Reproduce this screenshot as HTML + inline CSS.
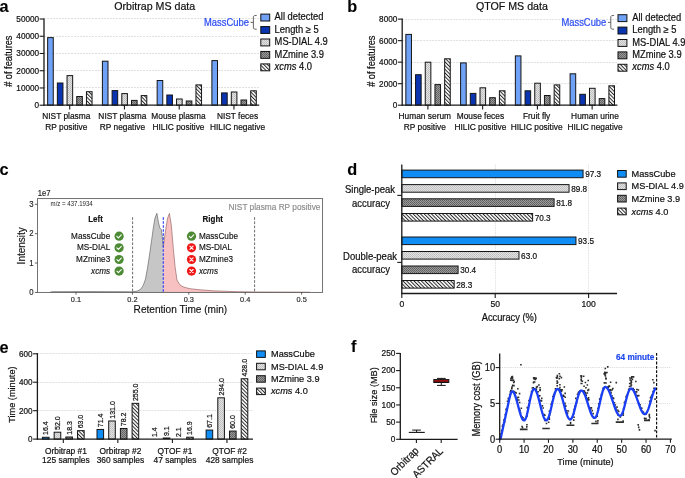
<!DOCTYPE html>
<html><head><meta charset="utf-8"><style>
html,body{margin:0;padding:0;background:#fff;width:685px;height:478px;overflow:hidden}
svg{display:block;will-change:transform;filter:blur(0.3px)}
text{font-family:"Liberation Sans", sans-serif}
</style></head><body>
<svg width="685" height="478" viewBox="0 0 685 478" font-family='"Liberation Sans", sans-serif'>
<defs>
<pattern id="pMSD" width="2" height="2" patternUnits="userSpaceOnUse"><rect width="2" height="2" fill="#e2e2e2"/><rect width="1" height="1" fill="#bdbdbd"/><rect x="1" y="1" width="1" height="1" fill="#c6c6c6"/></pattern>
<pattern id="pMZ" width="2" height="2" patternUnits="userSpaceOnUse"><rect width="2" height="2" fill="#9a9a9a"/><rect width="1" height="1" fill="#5e5e5e"/><rect x="1" y="1" width="1" height="1" fill="#6a6a6a"/></pattern>
<pattern id="pXC" width="2.6" height="2.6" patternUnits="userSpaceOnUse" patternTransform="rotate(-45)"><rect width="2.6" height="2.6" fill="#fafafa"/><rect width="0.95" height="2.6" fill="#262626"/></pattern>
</defs>
<rect width="685" height="478" fill="#fff"/>
<text transform="translate(-0.6 11.7)" font-size="16.3" text-anchor="start" font-weight="bold" fill="#000" font-style="normal" stroke="#000" stroke-width="0.1">a</text>
<line x1="44" y1="87.5" x2="259.2" y2="87.5" stroke="#e0e0e0" stroke-width="1" stroke-dasharray="2 1"/>
<line x1="44" y1="70.5" x2="259.2" y2="70.5" stroke="#e0e0e0" stroke-width="1" stroke-dasharray="2 1"/>
<line x1="44" y1="53.5" x2="259.2" y2="53.5" stroke="#e0e0e0" stroke-width="1" stroke-dasharray="2 1"/>
<line x1="44" y1="36.5" x2="259.2" y2="36.5" stroke="#e0e0e0" stroke-width="1" stroke-dasharray="2 1"/>
<line x1="44" y1="18.5" x2="259.2" y2="18.5" stroke="#e0e0e0" stroke-width="1" stroke-dasharray="2 1"/>
<rect x="47.65" y="37.6" width="5.6" height="67.6" fill="#6fa2f7" stroke="#151515" stroke-width="1"/>
<rect x="57.35" y="83" width="5.6" height="22.2" fill="#0a34b0" stroke="#151515" stroke-width="1"/>
<rect x="67.05" y="75.6" width="5.6" height="29.6" fill="url(#pMSD)" stroke="#151515" stroke-width="1"/>
<rect x="76.75" y="96.5" width="5.6" height="8.7" fill="url(#pMZ)" stroke="#151515" stroke-width="1"/>
<rect x="86.45" y="91.7" width="5.6" height="13.5" fill="url(#pXC)" stroke="#151515" stroke-width="1"/>
<line x1="69.7" y1="105.2" x2="69.7" y2="109.4" stroke="#1a1a1a" stroke-width="1.1"/>
<text transform="translate(66.3 119.4) scale(1 1.08)" font-size="8.35" text-anchor="middle" font-weight="normal" fill="#111" font-style="normal" stroke="#111" stroke-width="0.2">NIST plasma</text>
<text transform="translate(66.3 129.6) scale(1 1.08)" font-size="8.35" text-anchor="middle" font-weight="normal" fill="#111" font-style="normal" stroke="#111" stroke-width="0.2">RP positive</text>
<rect x="102.4" y="61.2" width="5.6" height="44" fill="#6fa2f7" stroke="#151515" stroke-width="1"/>
<rect x="112.1" y="90.6" width="5.6" height="14.6" fill="#0a34b0" stroke="#151515" stroke-width="1"/>
<rect x="121.8" y="93.6" width="5.6" height="11.6" fill="url(#pMSD)" stroke="#151515" stroke-width="1"/>
<rect x="131.5" y="100.4" width="5.6" height="4.8" fill="url(#pMZ)" stroke="#151515" stroke-width="1"/>
<rect x="141.2" y="95.6" width="5.6" height="9.6" fill="url(#pXC)" stroke="#151515" stroke-width="1"/>
<line x1="124.45" y1="105.2" x2="124.45" y2="109.4" stroke="#1a1a1a" stroke-width="1.1"/>
<text transform="translate(122.4 119.4) scale(1 1.08)" font-size="8.35" text-anchor="middle" font-weight="normal" fill="#111" font-style="normal" stroke="#111" stroke-width="0.2">NIST plasma</text>
<text transform="translate(122.4 129.6) scale(1 1.08)" font-size="8.35" text-anchor="middle" font-weight="normal" fill="#111" font-style="normal" stroke="#111" stroke-width="0.2">RP negative</text>
<rect x="157.15" y="80.5" width="5.6" height="24.7" fill="#6fa2f7" stroke="#151515" stroke-width="1"/>
<rect x="166.85" y="95" width="5.6" height="10.2" fill="#0a34b0" stroke="#151515" stroke-width="1"/>
<rect x="176.55" y="99" width="5.6" height="6.2" fill="url(#pMSD)" stroke="#151515" stroke-width="1"/>
<rect x="186.25" y="101" width="5.6" height="4.2" fill="url(#pMZ)" stroke="#151515" stroke-width="1"/>
<rect x="195.95" y="84.9" width="5.6" height="20.3" fill="url(#pXC)" stroke="#151515" stroke-width="1"/>
<line x1="179.2" y1="105.2" x2="179.2" y2="109.4" stroke="#1a1a1a" stroke-width="1.1"/>
<text transform="translate(178.5 119.4) scale(1 1.08)" font-size="8.35" text-anchor="middle" font-weight="normal" fill="#111" font-style="normal" stroke="#111" stroke-width="0.2">Mouse plasma</text>
<text transform="translate(178.5 129.6) scale(1 1.08)" font-size="8.35" text-anchor="middle" font-weight="normal" fill="#111" font-style="normal" stroke="#111" stroke-width="0.2">HILIC positive</text>
<rect x="211.9" y="60.6" width="5.6" height="44.6" fill="#6fa2f7" stroke="#151515" stroke-width="1"/>
<rect x="221.6" y="92.9" width="5.6" height="12.3" fill="#0a34b0" stroke="#151515" stroke-width="1"/>
<rect x="231.3" y="92" width="5.6" height="13.2" fill="url(#pMSD)" stroke="#151515" stroke-width="1"/>
<rect x="241" y="100" width="5.6" height="5.2" fill="url(#pMZ)" stroke="#151515" stroke-width="1"/>
<rect x="250.7" y="90.8" width="5.6" height="14.4" fill="url(#pXC)" stroke="#151515" stroke-width="1"/>
<line x1="233.95" y1="105.2" x2="233.95" y2="109.4" stroke="#1a1a1a" stroke-width="1.1"/>
<text transform="translate(237.5 119.4) scale(1 1.08)" font-size="8.35" text-anchor="middle" font-weight="normal" fill="#111" font-style="normal" stroke="#111" stroke-width="0.2">NIST feces</text>
<text transform="translate(237.5 129.6) scale(1 1.08)" font-size="8.35" text-anchor="middle" font-weight="normal" fill="#111" font-style="normal" stroke="#111" stroke-width="0.2">HILIC negative</text>
<line x1="44" y1="18.6" x2="44" y2="105.8" stroke="#1a1a1a" stroke-width="1.3"/>
<line x1="43.4" y1="105.2" x2="259.2" y2="105.2" stroke="#1a1a1a" stroke-width="1.3"/>
<line x1="39.6" y1="105.2" x2="44" y2="105.2" stroke="#1a1a1a" stroke-width="1.1"/>
<text transform="translate(39.1 108.1) scale(1 1.08)" font-size="8.2" text-anchor="end" font-weight="normal" fill="#111" font-style="normal" stroke="#111" stroke-width="0.2">0</text>
<line x1="39.6" y1="87.96" x2="44" y2="87.96" stroke="#1a1a1a" stroke-width="1.1"/>
<text transform="translate(39.1 90.86) scale(1 1.08)" font-size="8.2" text-anchor="end" font-weight="normal" fill="#111" font-style="normal" stroke="#111" stroke-width="0.2">10000</text>
<line x1="39.6" y1="70.72" x2="44" y2="70.72" stroke="#1a1a1a" stroke-width="1.1"/>
<text transform="translate(39.1 73.62) scale(1 1.08)" font-size="8.2" text-anchor="end" font-weight="normal" fill="#111" font-style="normal" stroke="#111" stroke-width="0.2">20000</text>
<line x1="39.6" y1="53.48" x2="44" y2="53.48" stroke="#1a1a1a" stroke-width="1.1"/>
<text transform="translate(39.1 56.38) scale(1 1.08)" font-size="8.2" text-anchor="end" font-weight="normal" fill="#111" font-style="normal" stroke="#111" stroke-width="0.2">30000</text>
<line x1="39.6" y1="36.24" x2="44" y2="36.24" stroke="#1a1a1a" stroke-width="1.1"/>
<text transform="translate(39.1 39.14) scale(1 1.08)" font-size="8.2" text-anchor="end" font-weight="normal" fill="#111" font-style="normal" stroke="#111" stroke-width="0.2">40000</text>
<line x1="39.6" y1="19" x2="44" y2="19" stroke="#1a1a1a" stroke-width="1.1"/>
<text transform="translate(39.1 21.9) scale(1 1.08)" font-size="8.2" text-anchor="end" font-weight="normal" fill="#111" font-style="normal" stroke="#111" stroke-width="0.2">50000</text>
<text transform="translate(154.7 9.9) scale(1 1.08)" font-size="10.65" text-anchor="middle" font-weight="normal" fill="#111" font-style="normal" stroke="#111" stroke-width="0.2">Orbitrap MS data</text>
<text transform="translate(11.9 61.2) rotate(-90) scale(1 1.08)" font-size="9.25" text-anchor="middle" font-weight="normal" fill="#111" font-style="normal" stroke="#111" stroke-width="0.2"># of features</text>
<rect x="260.8" y="14.1" width="8.9" height="6.9" fill="#6fa2f7" stroke="#111" stroke-width="1"/>
<text transform="translate(274.6 20.2) scale(1 1.08)" font-size="9.35" text-anchor="start" font-weight="normal" fill="#111" font-style="normal" stroke="#111" stroke-width="0.2">All detected</text>
<rect x="260.8" y="26.55" width="8.9" height="6.9" fill="#0a34b0" stroke="#111" stroke-width="1"/>
<text transform="translate(274.6 32.65) scale(1 1.08)" font-size="9.35" text-anchor="start" font-weight="normal" fill="#111" font-style="normal" stroke="#111" stroke-width="0.2">Length ≥ 5</text>
<rect x="260.8" y="39" width="8.9" height="6.9" fill="url(#pMSD)" stroke="#111" stroke-width="1"/>
<text transform="translate(274.6 45.1) scale(1 1.08)" font-size="9.35" text-anchor="start" font-weight="normal" fill="#111" font-style="normal" stroke="#111" stroke-width="0.2">MS-DIAL 4.9</text>
<rect x="260.8" y="51.45" width="8.9" height="6.9" fill="url(#pMZ)" stroke="#111" stroke-width="1"/>
<text transform="translate(274.6 57.55) scale(1 1.08)" font-size="9.35" text-anchor="start" font-weight="normal" fill="#111" font-style="normal" stroke="#111" stroke-width="0.2">MZmine 3.9</text>
<rect x="260.8" y="63.9" width="8.9" height="6.9" fill="url(#pXC)" stroke="#111" stroke-width="1"/>
<text transform="translate(274.6 70) scale(1 1.08)" font-size="9.35" text-anchor="start" font-weight="normal" fill="#111" font-style="normal" stroke="#111" stroke-width="0.2"><tspan font-style="italic">xcms</tspan> 4.0</text>
<text transform="translate(248.9 25.8) scale(1 1.08)" font-size="9.4" text-anchor="end" font-weight="normal" fill="#2a4cf2" font-style="normal" stroke="#2a4cf2" stroke-width="0.2">MassCube</text>
<path d="M256.7 15.4 Q253.4 15.4 253.4 16.6 L253.4 28.1 Q253.4 29.3 256.7 29.3 M250.6 22.4 L253.4 22.4" fill="none" stroke="#555" stroke-width="0.9"/>
<text transform="translate(347.2 11.8)" font-size="16.3" text-anchor="start" font-weight="bold" fill="#000" font-style="normal" stroke="#000" stroke-width="0.1">b</text>
<line x1="402.2" y1="83.5" x2="617.4" y2="83.5" stroke="#e0e0e0" stroke-width="1" stroke-dasharray="2 1"/>
<line x1="402.2" y1="62.5" x2="617.4" y2="62.5" stroke="#e0e0e0" stroke-width="1" stroke-dasharray="2 1"/>
<line x1="402.2" y1="40.5" x2="617.4" y2="40.5" stroke="#e0e0e0" stroke-width="1" stroke-dasharray="2 1"/>
<line x1="402.2" y1="19.5" x2="617.4" y2="19.5" stroke="#e0e0e0" stroke-width="1" stroke-dasharray="2 1"/>
<rect x="405.85" y="34.4" width="5.6" height="70.8" fill="#6fa2f7" stroke="#151515" stroke-width="1"/>
<rect x="415.55" y="74.7" width="5.6" height="30.5" fill="#0a34b0" stroke="#151515" stroke-width="1"/>
<rect x="425.25" y="62.2" width="5.6" height="43" fill="url(#pMSD)" stroke="#151515" stroke-width="1"/>
<rect x="434.95" y="84.6" width="5.6" height="20.6" fill="url(#pMZ)" stroke="#151515" stroke-width="1"/>
<rect x="444.65" y="58.8" width="5.6" height="46.4" fill="url(#pXC)" stroke="#151515" stroke-width="1"/>
<line x1="427.9" y1="105.2" x2="427.9" y2="109.4" stroke="#1a1a1a" stroke-width="1.1"/>
<text transform="translate(424.8 119.4) scale(1 1.08)" font-size="8.35" text-anchor="middle" font-weight="normal" fill="#111" font-style="normal" stroke="#111" stroke-width="0.2">Human serum</text>
<text transform="translate(424.8 129.6) scale(1 1.08)" font-size="8.35" text-anchor="middle" font-weight="normal" fill="#111" font-style="normal" stroke="#111" stroke-width="0.2">RP positive</text>
<rect x="460.6" y="62.9" width="5.6" height="42.3" fill="#6fa2f7" stroke="#151515" stroke-width="1"/>
<rect x="470.3" y="93.4" width="5.6" height="11.8" fill="#0a34b0" stroke="#151515" stroke-width="1"/>
<rect x="480" y="87.8" width="5.6" height="17.4" fill="url(#pMSD)" stroke="#151515" stroke-width="1"/>
<rect x="489.7" y="97.7" width="5.6" height="7.5" fill="url(#pMZ)" stroke="#151515" stroke-width="1"/>
<rect x="499.4" y="90.8" width="5.6" height="14.4" fill="url(#pXC)" stroke="#151515" stroke-width="1"/>
<line x1="482.65" y1="105.2" x2="482.65" y2="109.4" stroke="#1a1a1a" stroke-width="1.1"/>
<text transform="translate(480.4 119.4) scale(1 1.08)" font-size="8.35" text-anchor="middle" font-weight="normal" fill="#111" font-style="normal" stroke="#111" stroke-width="0.2">Mouse feces</text>
<text transform="translate(480.4 129.6) scale(1 1.08)" font-size="8.35" text-anchor="middle" font-weight="normal" fill="#111" font-style="normal" stroke="#111" stroke-width="0.2">HILIC positive</text>
<rect x="515.35" y="55.9" width="5.6" height="49.3" fill="#6fa2f7" stroke="#151515" stroke-width="1"/>
<rect x="525.05" y="90.8" width="5.6" height="14.4" fill="#0a34b0" stroke="#151515" stroke-width="1"/>
<rect x="534.75" y="83.2" width="5.6" height="22" fill="url(#pMSD)" stroke="#151515" stroke-width="1"/>
<rect x="544.45" y="95.5" width="5.6" height="9.7" fill="url(#pMZ)" stroke="#151515" stroke-width="1"/>
<rect x="554.15" y="84.9" width="5.6" height="20.3" fill="url(#pXC)" stroke="#151515" stroke-width="1"/>
<line x1="537.4" y1="105.2" x2="537.4" y2="109.4" stroke="#1a1a1a" stroke-width="1.1"/>
<text transform="translate(536.6 119.4) scale(1 1.08)" font-size="8.35" text-anchor="middle" font-weight="normal" fill="#111" font-style="normal" stroke="#111" stroke-width="0.2">Fruit fly</text>
<text transform="translate(536.6 129.6) scale(1 1.08)" font-size="8.35" text-anchor="middle" font-weight="normal" fill="#111" font-style="normal" stroke="#111" stroke-width="0.2">HILIC positive</text>
<rect x="570.1" y="73.8" width="5.6" height="31.4" fill="#6fa2f7" stroke="#151515" stroke-width="1"/>
<rect x="579.8" y="94.3" width="5.6" height="10.9" fill="#0a34b0" stroke="#151515" stroke-width="1"/>
<rect x="589.5" y="88.3" width="5.6" height="16.9" fill="url(#pMSD)" stroke="#151515" stroke-width="1"/>
<rect x="599.2" y="98.6" width="5.6" height="6.6" fill="url(#pMZ)" stroke="#151515" stroke-width="1"/>
<rect x="608.9" y="85.8" width="5.6" height="19.4" fill="url(#pXC)" stroke="#151515" stroke-width="1"/>
<line x1="592.15" y1="105.2" x2="592.15" y2="109.4" stroke="#1a1a1a" stroke-width="1.1"/>
<text transform="translate(595 119.4) scale(1 1.08)" font-size="8.35" text-anchor="middle" font-weight="normal" fill="#111" font-style="normal" stroke="#111" stroke-width="0.2">Human urine</text>
<text transform="translate(595 129.6) scale(1 1.08)" font-size="8.35" text-anchor="middle" font-weight="normal" fill="#111" font-style="normal" stroke="#111" stroke-width="0.2">HILIC negative</text>
<line x1="402.2" y1="18.6" x2="402.2" y2="105.8" stroke="#1a1a1a" stroke-width="1.3"/>
<line x1="401.6" y1="105.2" x2="617.4" y2="105.2" stroke="#1a1a1a" stroke-width="1.3"/>
<line x1="397.8" y1="105.2" x2="402.2" y2="105.2" stroke="#1a1a1a" stroke-width="1.1"/>
<text transform="translate(397.3 108.1) scale(1 1.08)" font-size="8.2" text-anchor="end" font-weight="normal" fill="#111" font-style="normal" stroke="#111" stroke-width="0.2">0</text>
<line x1="397.8" y1="83.68" x2="402.2" y2="83.68" stroke="#1a1a1a" stroke-width="1.1"/>
<text transform="translate(397.3 86.58) scale(1 1.08)" font-size="8.2" text-anchor="end" font-weight="normal" fill="#111" font-style="normal" stroke="#111" stroke-width="0.2">2000</text>
<line x1="397.8" y1="62.16" x2="402.2" y2="62.16" stroke="#1a1a1a" stroke-width="1.1"/>
<text transform="translate(397.3 65.06) scale(1 1.08)" font-size="8.2" text-anchor="end" font-weight="normal" fill="#111" font-style="normal" stroke="#111" stroke-width="0.2">4000</text>
<line x1="397.8" y1="40.64" x2="402.2" y2="40.64" stroke="#1a1a1a" stroke-width="1.1"/>
<text transform="translate(397.3 43.54) scale(1 1.08)" font-size="8.2" text-anchor="end" font-weight="normal" fill="#111" font-style="normal" stroke="#111" stroke-width="0.2">6000</text>
<line x1="397.8" y1="19.12" x2="402.2" y2="19.12" stroke="#1a1a1a" stroke-width="1.1"/>
<text transform="translate(397.3 22.02) scale(1 1.08)" font-size="8.2" text-anchor="end" font-weight="normal" fill="#111" font-style="normal" stroke="#111" stroke-width="0.2">8000</text>
<text transform="translate(511.9 9.9) scale(1 1.08)" font-size="10.65" text-anchor="middle" font-weight="normal" fill="#111" font-style="normal" stroke="#111" stroke-width="0.2">QTOF MS data</text>
<text transform="translate(374.8 61.2) rotate(-90) scale(1 1.08)" font-size="9.25" text-anchor="middle" font-weight="normal" fill="#111" font-style="normal" stroke="#111" stroke-width="0.2"># of features</text>
<rect x="618" y="14.7" width="8.9" height="6.9" fill="#6fa2f7" stroke="#111" stroke-width="1"/>
<text transform="translate(632.3 20.8) scale(1 1.08)" font-size="9.35" text-anchor="start" font-weight="normal" fill="#111" font-style="normal" stroke="#111" stroke-width="0.2">All detected</text>
<rect x="618" y="27.1" width="8.9" height="6.9" fill="#0a34b0" stroke="#111" stroke-width="1"/>
<text transform="translate(632.3 33.2) scale(1 1.08)" font-size="9.35" text-anchor="start" font-weight="normal" fill="#111" font-style="normal" stroke="#111" stroke-width="0.2">Length ≥ 5</text>
<rect x="618" y="39.5" width="8.9" height="6.9" fill="url(#pMSD)" stroke="#111" stroke-width="1"/>
<text transform="translate(632.3 45.6) scale(1 1.08)" font-size="9.35" text-anchor="start" font-weight="normal" fill="#111" font-style="normal" stroke="#111" stroke-width="0.2">MS-DIAL 4.9</text>
<rect x="618" y="51.9" width="8.9" height="6.9" fill="url(#pMZ)" stroke="#111" stroke-width="1"/>
<text transform="translate(632.3 58) scale(1 1.08)" font-size="9.35" text-anchor="start" font-weight="normal" fill="#111" font-style="normal" stroke="#111" stroke-width="0.2">MZmine 3.9</text>
<rect x="618" y="64.3" width="8.9" height="6.9" fill="url(#pXC)" stroke="#111" stroke-width="1"/>
<text transform="translate(632.3 70.4) scale(1 1.08)" font-size="9.35" text-anchor="start" font-weight="normal" fill="#111" font-style="normal" stroke="#111" stroke-width="0.2"><tspan font-style="italic">xcms</tspan> 4.0</text>
<text transform="translate(606.3 25.8) scale(1 1.08)" font-size="9.4" text-anchor="end" font-weight="normal" fill="#2a4cf2" font-style="normal" stroke="#2a4cf2" stroke-width="0.2">MassCube</text>
<path d="M614.1 15.4 Q610.8 15.4 610.8 16.6 L610.8 28.1 Q610.8 29.3 614.1 29.3 M608 22.4 L610.8 22.4" fill="none" stroke="#555" stroke-width="0.9"/>
<text transform="translate(-0.4 174.9)" font-size="16.3" text-anchor="start" font-weight="bold" fill="#000" font-style="normal" stroke="#000" stroke-width="0.1">c</text>
<polygon points="50,292.4 52,291.7 90,291.6 120,291.7 130.5,291.8 134,291.6 137.5,291 140.5,289.4 143.2,285.5 145.5,279 147.5,268 149.5,255 151.5,241 153.3,228 155,218 156.9,213.3 158.5,222.5 159.8,228 161.3,229.5 162.3,236.5 163.3,247 163.3,292.4" fill="#c6c6c6" stroke="none"/>
<polyline points="50,292.4 52,291.7 90,291.6 120,291.7 130.5,291.8 134,291.6 137.5,291 140.5,289.4 143.2,285.5 145.5,279 147.5,268 149.5,255 151.5,241 153.3,228 155,218 156.9,213.3 158.5,222.5 159.8,228 161.3,229.5 162.3,236.5 163.3,247" fill="none" stroke="#555" stroke-width="0.6"/>
<polygon points="163.3,247 164.5,238 165.7,229.4 167.6,218.2 169.4,213.4 171.4,225.7 173.3,248.3 175.1,267 177,280 179.8,284.8 183,286.8 186.4,287.8 190,288.7 200,289.8 215,290.9 237,291.7 260,292 290,292.1 310,292.2 310,292.4 163.3,292.4" fill="#f7c1c1" stroke="none"/>
<polyline points="163.3,247 164.5,238 165.7,229.4 167.6,218.2 169.4,213.4 171.4,225.7 173.3,248.3 175.1,267 177,280 179.8,284.8 183,286.8 186.4,287.8 190,288.7 200,289.8 215,290.9 237,291.7 260,292 290,292.1 310,292.2" fill="none" stroke="#8a5555" stroke-width="0.6"/>
<line x1="132.6" y1="217.2" x2="132.6" y2="292.4" stroke="#444" stroke-width="0.8" stroke-dasharray="2.6 1.6"/>
<line x1="254.6" y1="217.2" x2="254.6" y2="292.4" stroke="#444" stroke-width="0.8" stroke-dasharray="2.6 1.6"/>
<line x1="163.3" y1="217.2" x2="163.3" y2="292.4" stroke="#2233ff" stroke-width="1.1" stroke-dasharray="2.6 1.4"/>
<rect x="37.5" y="198.6" width="285.1" height="93.8" fill="none" stroke="#5a5a5a" stroke-width="0.85"/>
<line x1="34.9" y1="292.4" x2="37.5" y2="292.4" stroke="#3a3a3a" stroke-width="0.8"/>
<text transform="translate(33.6 295.2) scale(1 1.08)" font-size="7.8" text-anchor="end" font-weight="normal" fill="#222" font-style="normal" stroke="#222" stroke-width="0.14">0</text>
<line x1="34.9" y1="263.03" x2="37.5" y2="263.03" stroke="#3a3a3a" stroke-width="0.8"/>
<text transform="translate(33.6 265.83) scale(1 1.08)" font-size="7.8" text-anchor="end" font-weight="normal" fill="#222" font-style="normal" stroke="#222" stroke-width="0.14">1</text>
<line x1="34.9" y1="233.66" x2="37.5" y2="233.66" stroke="#3a3a3a" stroke-width="0.8"/>
<text transform="translate(33.6 236.46) scale(1 1.08)" font-size="7.8" text-anchor="end" font-weight="normal" fill="#222" font-style="normal" stroke="#222" stroke-width="0.14">2</text>
<line x1="34.9" y1="204.29" x2="37.5" y2="204.29" stroke="#3a3a3a" stroke-width="0.8"/>
<text transform="translate(33.6 207.09) scale(1 1.08)" font-size="7.8" text-anchor="end" font-weight="normal" fill="#222" font-style="normal" stroke="#222" stroke-width="0.14">3</text>
<line x1="76" y1="292.4" x2="76" y2="294.6" stroke="#3a3a3a" stroke-width="0.8"/>
<text transform="translate(76 301.6) scale(1 1.08)" font-size="7.4" text-anchor="middle" font-weight="normal" fill="#222" font-style="normal" stroke="#222" stroke-width="0.14">0.1</text>
<line x1="132.4" y1="292.4" x2="132.4" y2="294.6" stroke="#3a3a3a" stroke-width="0.8"/>
<text transform="translate(132.4 301.6) scale(1 1.08)" font-size="7.4" text-anchor="middle" font-weight="normal" fill="#222" font-style="normal" stroke="#222" stroke-width="0.14">0.2</text>
<line x1="188.8" y1="292.4" x2="188.8" y2="294.6" stroke="#3a3a3a" stroke-width="0.8"/>
<text transform="translate(188.8 301.6) scale(1 1.08)" font-size="7.4" text-anchor="middle" font-weight="normal" fill="#222" font-style="normal" stroke="#222" stroke-width="0.14">0.3</text>
<line x1="245.2" y1="292.4" x2="245.2" y2="294.6" stroke="#3a3a3a" stroke-width="0.8"/>
<text transform="translate(245.2 301.6) scale(1 1.08)" font-size="7.4" text-anchor="middle" font-weight="normal" fill="#222" font-style="normal" stroke="#222" stroke-width="0.14">0.4</text>
<line x1="301.6" y1="292.4" x2="301.6" y2="294.6" stroke="#3a3a3a" stroke-width="0.8"/>
<text transform="translate(301.6 301.6) scale(1 1.08)" font-size="7.4" text-anchor="middle" font-weight="normal" fill="#222" font-style="normal" stroke="#222" stroke-width="0.14">0.5</text>
<text transform="translate(37.8 196.3) scale(1 1.08)" font-size="7.7" text-anchor="start" font-weight="normal" fill="#222" font-style="normal" stroke="#222" stroke-width="0.14">1e7</text>
<text transform="translate(50.6 205.6) scale(1 1.08)" font-size="6.1" text-anchor="start" font-weight="normal" fill="#222" font-style="normal">m/z = 437.1934</text>
<text transform="translate(320.4 209.6) scale(1 1.08)" font-size="8.3" text-anchor="end" font-weight="normal" fill="#8a8a8a" font-style="normal" stroke="#8a8a8a" stroke-width="0.14">NIST plasma RP positive</text>
<text transform="translate(180.4 312.6) scale(1 1.08)" font-size="10.1" text-anchor="middle" font-weight="normal" fill="#111" font-style="normal" stroke="#111" stroke-width="0.14">Retention Time (min)</text>
<text transform="translate(25.3 245.8) rotate(-90) scale(1 1.08)" font-size="10" text-anchor="middle" font-weight="normal" fill="#111" font-style="normal" stroke="#111" stroke-width="0.14">Intensity</text>
<text transform="translate(95.5 222.2) scale(1 1.08)" font-size="8" text-anchor="middle" font-weight="bold" fill="#111" font-style="normal" stroke="#111" stroke-width="0.14">Left</text>
<text transform="translate(212.8 222.2) scale(1 1.08)" font-size="8" text-anchor="middle" font-weight="bold" fill="#111" font-style="normal" stroke="#111" stroke-width="0.14">Right</text>
<text transform="translate(110.2 238.8) scale(1 1.08)" font-size="8.2" text-anchor="end" font-weight="normal" fill="#111" font-style="normal" stroke="#111" stroke-width="0.14">MassCube</text>
<circle cx="119.1" cy="236.2" r="4.6" fill="#4c8a34"/>
<path d="M116.9 236.3 L118.4 237.8 L121.3 234.8" fill="none" stroke="#fff" stroke-width="1.1" stroke-linecap="round" stroke-linejoin="round"/>
<text transform="translate(110.2 250.4) scale(1 1.08)" font-size="8.2" text-anchor="end" font-weight="normal" fill="#111" font-style="normal" stroke="#111" stroke-width="0.14">MS-DIAL</text>
<circle cx="119.1" cy="247.8" r="4.6" fill="#4c8a34"/>
<path d="M116.9 247.9 L118.4 249.4 L121.3 246.4" fill="none" stroke="#fff" stroke-width="1.1" stroke-linecap="round" stroke-linejoin="round"/>
<text transform="translate(110.2 262) scale(1 1.08)" font-size="8.2" text-anchor="end" font-weight="normal" fill="#111" font-style="normal" stroke="#111" stroke-width="0.14">MZmine3</text>
<circle cx="119.1" cy="259.5" r="4.6" fill="#4c8a34"/>
<path d="M116.9 259.6 L118.4 261.1 L121.3 258.1" fill="none" stroke="#fff" stroke-width="1.1" stroke-linecap="round" stroke-linejoin="round"/>
<text transform="translate(110.2 273.9) scale(1 1.08)" font-size="8.2" text-anchor="end" font-weight="normal" fill="#111" font-style="normal" stroke="#111" stroke-width="0.14"><tspan font-style="italic">xcms</tspan></text>
<circle cx="119.1" cy="271.1" r="4.6" fill="#4c8a34"/>
<path d="M116.9 271.2 L118.4 272.7 L121.3 269.7" fill="none" stroke="#fff" stroke-width="1.1" stroke-linecap="round" stroke-linejoin="round"/>
<text transform="translate(198.9 238.8) scale(1 1.08)" font-size="8.2" text-anchor="start" font-weight="normal" fill="#111" font-style="normal" stroke="#111" stroke-width="0.14">MassCube</text>
<circle cx="191.5" cy="236.2" r="4.6" fill="#4c8a34"/>
<path d="M189.3 236.3 L190.8 237.8 L193.7 234.8" fill="none" stroke="#fff" stroke-width="1.1" stroke-linecap="round" stroke-linejoin="round"/>
<text transform="translate(198.9 250.4) scale(1 1.08)" font-size="8.2" text-anchor="start" font-weight="normal" fill="#111" font-style="normal" stroke="#111" stroke-width="0.14">MS-DIAL</text>
<circle cx="191.5" cy="247.8" r="4.6" fill="#f01616"/>
<path d="M189.9 246.2 L193.1 249.4 M189.9 249.4 L193.1 246.2" fill="none" stroke="#fff" stroke-width="1.1" stroke-linecap="round"/>
<text transform="translate(198.9 262) scale(1 1.08)" font-size="8.2" text-anchor="start" font-weight="normal" fill="#111" font-style="normal" stroke="#111" stroke-width="0.14">MZmine3</text>
<circle cx="191.5" cy="259.5" r="4.6" fill="#f01616"/>
<path d="M189.9 257.9 L193.1 261.1 M189.9 261.1 L193.1 257.9" fill="none" stroke="#fff" stroke-width="1.1" stroke-linecap="round"/>
<text transform="translate(198.9 273.9) scale(1 1.08)" font-size="8.2" text-anchor="start" font-weight="normal" fill="#111" font-style="normal" stroke="#111" stroke-width="0.14"><tspan font-style="italic">xcms</tspan></text>
<circle cx="191.5" cy="271.1" r="4.6" fill="#f01616"/>
<path d="M189.9 269.5 L193.1 272.7 M189.9 272.7 L193.1 269.5" fill="none" stroke="#fff" stroke-width="1.1" stroke-linecap="round"/>
<text transform="translate(347.3 175)" font-size="16.3" text-anchor="start" font-weight="bold" fill="#000" font-style="normal" stroke="#000" stroke-width="0.1">d</text>
<line x1="495.5" y1="164.8" x2="495.5" y2="293.5" stroke="#e2e2e2" stroke-width="1" stroke-dasharray="1.5 1"/>
<line x1="588.5" y1="164.8" x2="588.5" y2="293.5" stroke="#e2e2e2" stroke-width="1" stroke-dasharray="1.5 1"/>
<rect x="401.8" y="170.1" width="181.26" height="7.6" fill="#0f8df5" stroke="#151515" stroke-width="1"/>
<text transform="translate(585.16 177.15) scale(1 1.08)" font-size="8.2" text-anchor="start" font-weight="normal" fill="#111" font-style="normal" stroke="#111" stroke-width="0.2">97.3</text>
<rect x="401.8" y="184.6" width="167.25" height="7.6" fill="url(#pMSD)" stroke="#151515" stroke-width="1"/>
<text transform="translate(571.15 191.65) scale(1 1.08)" font-size="8.2" text-anchor="start" font-weight="normal" fill="#111" font-style="normal" stroke="#111" stroke-width="0.2">89.8</text>
<rect x="401.8" y="198.8" width="152.3" height="7.6" fill="url(#pMZ)" stroke="#151515" stroke-width="1"/>
<text transform="translate(556.2 205.85) scale(1 1.08)" font-size="8.2" text-anchor="start" font-weight="normal" fill="#111" font-style="normal" stroke="#111" stroke-width="0.2">81.8</text>
<rect x="401.8" y="213.5" width="130.82" height="7.6" fill="url(#pXC)" stroke="#151515" stroke-width="1"/>
<text transform="translate(534.72 220.55) scale(1 1.08)" font-size="8.2" text-anchor="start" font-weight="normal" fill="#111" font-style="normal" stroke="#111" stroke-width="0.2">70.3</text>
<rect x="401.8" y="237" width="174.16" height="7.6" fill="#0f8df5" stroke="#151515" stroke-width="1"/>
<text transform="translate(578.06 244.05) scale(1 1.08)" font-size="8.2" text-anchor="start" font-weight="normal" fill="#111" font-style="normal" stroke="#111" stroke-width="0.2">93.5</text>
<rect x="401.8" y="251.5" width="117.18" height="7.6" fill="url(#pMSD)" stroke="#151515" stroke-width="1"/>
<text transform="translate(521.08 258.55) scale(1 1.08)" font-size="8.2" text-anchor="start" font-weight="normal" fill="#111" font-style="normal" stroke="#111" stroke-width="0.2">63.0</text>
<rect x="401.8" y="266" width="56.29" height="7.6" fill="url(#pMZ)" stroke="#151515" stroke-width="1"/>
<text transform="translate(460.19 273.05) scale(1 1.08)" font-size="8.2" text-anchor="start" font-weight="normal" fill="#111" font-style="normal" stroke="#111" stroke-width="0.2">30.4</text>
<rect x="401.8" y="280.5" width="52.36" height="7.6" fill="url(#pXC)" stroke="#151515" stroke-width="1"/>
<text transform="translate(456.26 287.55) scale(1 1.08)" font-size="8.2" text-anchor="start" font-weight="normal" fill="#111" font-style="normal" stroke="#111" stroke-width="0.2">28.3</text>
<line x1="401.8" y1="164.6" x2="401.8" y2="294.1" stroke="#1a1a1a" stroke-width="1.3"/>
<line x1="401.2" y1="293.5" x2="617" y2="293.5" stroke="#1a1a1a" stroke-width="1.3"/>
<line x1="401.8" y1="293.5" x2="401.8" y2="297.9" stroke="#1a1a1a" stroke-width="1.1"/>
<text transform="translate(401.8 307) scale(1 1.08)" font-size="8.6" text-anchor="middle" font-weight="normal" fill="#111" font-style="normal" stroke="#111" stroke-width="0.2">0</text>
<line x1="495.2" y1="293.5" x2="495.2" y2="297.9" stroke="#1a1a1a" stroke-width="1.1"/>
<text transform="translate(495.2 307) scale(1 1.08)" font-size="8.6" text-anchor="middle" font-weight="normal" fill="#111" font-style="normal" stroke="#111" stroke-width="0.2">50</text>
<line x1="588.6" y1="293.5" x2="588.6" y2="297.9" stroke="#1a1a1a" stroke-width="1.1"/>
<text transform="translate(588.6 307) scale(1 1.08)" font-size="8.6" text-anchor="middle" font-weight="normal" fill="#111" font-style="normal" stroke="#111" stroke-width="0.2">100</text>
<line x1="397.3" y1="195.4" x2="401.8" y2="195.4" stroke="#1a1a1a" stroke-width="1.1"/>
<line x1="397.3" y1="262.4" x2="401.8" y2="262.4" stroke="#1a1a1a" stroke-width="1.1"/>
<text transform="translate(370 193.4) scale(1 1.08)" font-size="9.5" text-anchor="middle" font-weight="normal" fill="#111" font-style="normal" stroke="#111" stroke-width="0.2">Single-peak</text>
<text transform="translate(371 207) scale(1 1.08)" font-size="9.5" text-anchor="middle" font-weight="normal" fill="#111" font-style="normal" stroke="#111" stroke-width="0.2">accuracy</text>
<text transform="translate(370 259.6) scale(1 1.08)" font-size="9.5" text-anchor="middle" font-weight="normal" fill="#111" font-style="normal" stroke="#111" stroke-width="0.2">Double-peak</text>
<text transform="translate(371 273.3) scale(1 1.08)" font-size="9.5" text-anchor="middle" font-weight="normal" fill="#111" font-style="normal" stroke="#111" stroke-width="0.2">accuracy</text>
<text transform="translate(509.3 320.8) scale(1 1.08)" font-size="9.3" text-anchor="middle" font-weight="normal" fill="#111" font-style="normal" stroke="#111" stroke-width="0.2">Accuracy (%)</text>
<rect x="617.6" y="170.5" width="8.6" height="6.7" fill="#0f8df5" stroke="#111" stroke-width="1"/>
<text transform="translate(631.6 176.9) scale(1 1.08)" font-size="9.2" text-anchor="start" font-weight="normal" fill="#111" font-style="normal" stroke="#111" stroke-width="0.2">MassCube</text>
<rect x="617.6" y="182.9" width="8.6" height="6.7" fill="url(#pMSD)" stroke="#111" stroke-width="1"/>
<text transform="translate(631.6 189.3) scale(1 1.08)" font-size="9.2" text-anchor="start" font-weight="normal" fill="#111" font-style="normal" stroke="#111" stroke-width="0.2">MS-DIAL 4.9</text>
<rect x="617.6" y="195.3" width="8.6" height="6.7" fill="url(#pMZ)" stroke="#111" stroke-width="1"/>
<text transform="translate(631.6 201.7) scale(1 1.08)" font-size="9.2" text-anchor="start" font-weight="normal" fill="#111" font-style="normal" stroke="#111" stroke-width="0.2">MZmine 3.9</text>
<rect x="617.6" y="208.1" width="8.6" height="6.7" fill="url(#pXC)" stroke="#111" stroke-width="1"/>
<text transform="translate(631.6 214.5) scale(1 1.08)" font-size="9.2" text-anchor="start" font-weight="normal" fill="#111" font-style="normal" stroke="#111" stroke-width="0.2"><tspan font-style="italic">xcms</tspan> 4.0</text>
<text transform="translate(-0.5 352.6)" font-size="16.3" text-anchor="start" font-weight="bold" fill="#000" font-style="normal" stroke="#000" stroke-width="0.1">e</text>
<line x1="37.4" y1="410.5" x2="253" y2="410.5" stroke="#e0e0e0" stroke-width="1" stroke-dasharray="2 1"/>
<line x1="37.4" y1="382.5" x2="253" y2="382.5" stroke="#e0e0e0" stroke-width="1" stroke-dasharray="2 1"/>
<line x1="37.4" y1="353.5" x2="253" y2="353.5" stroke="#e0e0e0" stroke-width="1" stroke-dasharray="2 1"/>
<rect x="42.45" y="437.27" width="6.6" height="1.83" fill="#0f8df5" stroke="#151515" stroke-width="1"/>
<text transform="translate(48.25 434.97) rotate(-90) scale(1 1.08)" font-size="7" text-anchor="start" font-weight="normal" fill="#111" font-style="normal" stroke="#111" stroke-width="0.2">16.4</text>
<rect x="54.15" y="432.21" width="6.6" height="6.89" fill="url(#pMSD)" stroke="#151515" stroke-width="1"/>
<text transform="translate(59.95 429.91) rotate(-90) scale(1 1.08)" font-size="7" text-anchor="start" font-weight="normal" fill="#111" font-style="normal" stroke="#111" stroke-width="0.2">52.0</text>
<rect x="65.85" y="437" width="6.6" height="2.1" fill="url(#pMZ)" stroke="#151515" stroke-width="1"/>
<text transform="translate(71.65 434.7) rotate(-90) scale(1 1.08)" font-size="7" text-anchor="start" font-weight="normal" fill="#111" font-style="normal" stroke="#111" stroke-width="0.2">18.3</text>
<rect x="77.55" y="430.64" width="6.6" height="8.46" fill="url(#pXC)" stroke="#151515" stroke-width="1"/>
<text transform="translate(83.35 428.34) rotate(-90) scale(1 1.08)" font-size="7" text-anchor="start" font-weight="normal" fill="#111" font-style="normal" stroke="#111" stroke-width="0.2">63.0</text>
<line x1="63.3" y1="439.1" x2="63.3" y2="443.1" stroke="#1a1a1a" stroke-width="1.1"/>
<text transform="translate(65.9 453.5) scale(1 1.08)" font-size="8.4" text-anchor="middle" font-weight="normal" fill="#111" font-style="normal" stroke="#111" stroke-width="0.2">Orbitrap #1</text>
<text transform="translate(65.9 463) scale(1 1.08)" font-size="8.4" text-anchor="middle" font-weight="normal" fill="#111" font-style="normal" stroke="#111" stroke-width="0.2">125 samples</text>
<rect x="97" y="429.45" width="6.6" height="9.65" fill="#0f8df5" stroke="#151515" stroke-width="1"/>
<text transform="translate(102.8 427.15) rotate(-90) scale(1 1.08)" font-size="7" text-anchor="start" font-weight="normal" fill="#111" font-style="normal" stroke="#111" stroke-width="0.2">71.4</text>
<rect x="108.7" y="420.98" width="6.6" height="18.12" fill="url(#pMSD)" stroke="#151515" stroke-width="1"/>
<text transform="translate(114.5 418.68) rotate(-90) scale(1 1.08)" font-size="7" text-anchor="start" font-weight="normal" fill="#111" font-style="normal" stroke="#111" stroke-width="0.2">131.0</text>
<rect x="120.4" y="428.48" width="6.6" height="10.62" fill="url(#pMZ)" stroke="#151515" stroke-width="1"/>
<text transform="translate(126.2 426.18) rotate(-90) scale(1 1.08)" font-size="7" text-anchor="start" font-weight="normal" fill="#111" font-style="normal" stroke="#111" stroke-width="0.2">78.2</text>
<rect x="132.1" y="403.35" width="6.6" height="35.75" fill="url(#pXC)" stroke="#151515" stroke-width="1"/>
<text transform="translate(137.9 401.05) rotate(-90) scale(1 1.08)" font-size="7" text-anchor="start" font-weight="normal" fill="#111" font-style="normal" stroke="#111" stroke-width="0.2">255.0</text>
<line x1="117.85" y1="439.1" x2="117.85" y2="443.1" stroke="#1a1a1a" stroke-width="1.1"/>
<text transform="translate(120.45 453.5) scale(1 1.08)" font-size="8.4" text-anchor="middle" font-weight="normal" fill="#111" font-style="normal" stroke="#111" stroke-width="0.2">Orbitrap #2</text>
<text transform="translate(120.45 463) scale(1 1.08)" font-size="8.4" text-anchor="middle" font-weight="normal" fill="#111" font-style="normal" stroke="#111" stroke-width="0.2">360 samples</text>
<text transform="translate(157.35 437.1) rotate(-90) scale(1 1.08)" font-size="7" text-anchor="start" font-weight="normal" fill="#111" font-style="normal" stroke="#111" stroke-width="0.2">1.4</text>
<rect x="162.75" y="437.51" width="7.6" height="1.59" fill="#151515"/>
<text transform="translate(169.05 436.01) rotate(-90) scale(1 1.08)" font-size="7" text-anchor="start" font-weight="normal" fill="#111" font-style="normal" stroke="#111" stroke-width="0.2">9.1</text>
<text transform="translate(180.75 437) rotate(-90) scale(1 1.08)" font-size="7" text-anchor="start" font-weight="normal" fill="#111" font-style="normal" stroke="#111" stroke-width="0.2">2.1</text>
<rect x="186.65" y="437.2" width="6.6" height="1.9" fill="url(#pXC)" stroke="#151515" stroke-width="1"/>
<text transform="translate(192.45 434.9) rotate(-90) scale(1 1.08)" font-size="7" text-anchor="start" font-weight="normal" fill="#111" font-style="normal" stroke="#111" stroke-width="0.2">16.9</text>
<line x1="172.4" y1="439.1" x2="172.4" y2="443.1" stroke="#1a1a1a" stroke-width="1.1"/>
<text transform="translate(175 453.5) scale(1 1.08)" font-size="8.4" text-anchor="middle" font-weight="normal" fill="#111" font-style="normal" stroke="#111" stroke-width="0.2">QTOF #1</text>
<text transform="translate(175 463) scale(1 1.08)" font-size="8.4" text-anchor="middle" font-weight="normal" fill="#111" font-style="normal" stroke="#111" stroke-width="0.2">47 samples</text>
<rect x="206.1" y="430.06" width="6.6" height="9.04" fill="#0f8df5" stroke="#151515" stroke-width="1"/>
<text transform="translate(211.9 427.76) rotate(-90) scale(1 1.08)" font-size="7" text-anchor="start" font-weight="normal" fill="#111" font-style="normal" stroke="#111" stroke-width="0.2">67.1</text>
<rect x="217.8" y="397.8" width="6.6" height="41.3" fill="url(#pMSD)" stroke="#151515" stroke-width="1"/>
<text transform="translate(223.6 395.5) rotate(-90) scale(1 1.08)" font-size="7" text-anchor="start" font-weight="normal" fill="#111" font-style="normal" stroke="#111" stroke-width="0.2">294.0</text>
<rect x="229.5" y="431.07" width="6.6" height="8.03" fill="url(#pMZ)" stroke="#151515" stroke-width="1"/>
<text transform="translate(235.3 428.77) rotate(-90) scale(1 1.08)" font-size="7" text-anchor="start" font-weight="normal" fill="#111" font-style="normal" stroke="#111" stroke-width="0.2">60.0</text>
<rect x="241.2" y="378.75" width="6.6" height="60.35" fill="url(#pXC)" stroke="#151515" stroke-width="1"/>
<text transform="translate(247 376.45) rotate(-90) scale(1 1.08)" font-size="7" text-anchor="start" font-weight="normal" fill="#111" font-style="normal" stroke="#111" stroke-width="0.2">428.0</text>
<line x1="226.95" y1="439.1" x2="226.95" y2="443.1" stroke="#1a1a1a" stroke-width="1.1"/>
<text transform="translate(229.55 453.5) scale(1 1.08)" font-size="8.4" text-anchor="middle" font-weight="normal" fill="#111" font-style="normal" stroke="#111" stroke-width="0.2">QTOF #2</text>
<text transform="translate(229.55 463) scale(1 1.08)" font-size="8.4" text-anchor="middle" font-weight="normal" fill="#111" font-style="normal" stroke="#111" stroke-width="0.2">428 samples</text>
<line x1="37.4" y1="353.2" x2="37.4" y2="439.7" stroke="#1a1a1a" stroke-width="1.3"/>
<line x1="36.8" y1="439.1" x2="253" y2="439.1" stroke="#1a1a1a" stroke-width="1.3"/>
<line x1="33.1" y1="439.1" x2="37.4" y2="439.1" stroke="#1a1a1a" stroke-width="1.1"/>
<text transform="translate(32.4 442) scale(1 1.08)" font-size="8.1" text-anchor="end" font-weight="normal" fill="#111" font-style="normal" stroke="#111" stroke-width="0.2">0</text>
<line x1="33.1" y1="410.67" x2="37.4" y2="410.67" stroke="#1a1a1a" stroke-width="1.1"/>
<text transform="translate(32.4 413.57) scale(1 1.08)" font-size="8.1" text-anchor="end" font-weight="normal" fill="#111" font-style="normal" stroke="#111" stroke-width="0.2">200</text>
<line x1="33.1" y1="382.23" x2="37.4" y2="382.23" stroke="#1a1a1a" stroke-width="1.1"/>
<text transform="translate(32.4 385.13) scale(1 1.08)" font-size="8.1" text-anchor="end" font-weight="normal" fill="#111" font-style="normal" stroke="#111" stroke-width="0.2">400</text>
<line x1="33.1" y1="353.8" x2="37.4" y2="353.8" stroke="#1a1a1a" stroke-width="1.1"/>
<text transform="translate(32.4 356.7) scale(1 1.08)" font-size="8.1" text-anchor="end" font-weight="normal" fill="#111" font-style="normal" stroke="#111" stroke-width="0.2">600</text>
<text transform="translate(15.3 394.6) rotate(-90) scale(1 1.08)" font-size="9.2" text-anchor="middle" font-weight="normal" fill="#111" font-style="normal" stroke="#111" stroke-width="0.2">Time (minute)</text>
<rect x="256.6" y="350.9" width="8.7" height="6.5" fill="#0f8df5" stroke="#111" stroke-width="1"/>
<text transform="translate(271 357.2) scale(1 1.08)" font-size="9.2" text-anchor="start" font-weight="normal" fill="#111" font-style="normal" stroke="#111" stroke-width="0.2">MassCube</text>
<rect x="256.6" y="363.3" width="8.7" height="6.5" fill="url(#pMSD)" stroke="#111" stroke-width="1"/>
<text transform="translate(271 369.6) scale(1 1.08)" font-size="9.2" text-anchor="start" font-weight="normal" fill="#111" font-style="normal" stroke="#111" stroke-width="0.2">MS-DIAL 4.9</text>
<rect x="256.6" y="375.7" width="8.7" height="6.5" fill="url(#pMZ)" stroke="#111" stroke-width="1"/>
<text transform="translate(271 382) scale(1 1.08)" font-size="9.2" text-anchor="start" font-weight="normal" fill="#111" font-style="normal" stroke="#111" stroke-width="0.2">MZmine 3.9</text>
<rect x="256.6" y="388.1" width="8.7" height="6.5" fill="url(#pXC)" stroke="#111" stroke-width="1"/>
<text transform="translate(271 394.4) scale(1 1.08)" font-size="9.2" text-anchor="start" font-weight="normal" fill="#111" font-style="normal" stroke="#111" stroke-width="0.2"><tspan font-style="italic">xcms</tspan> 4.0</text>
<text transform="translate(351.1 352.2)" font-size="16.3" text-anchor="start" font-weight="bold" fill="#000" font-style="normal" stroke="#000" stroke-width="0.1">f</text>
<line x1="400.3" y1="353" x2="400.3" y2="439.9" stroke="#1a1a1a" stroke-width="1.3"/>
<line x1="399.7" y1="439.3" x2="457.6" y2="439.3" stroke="#1a1a1a" stroke-width="1.3"/>
<line x1="396.1" y1="439.3" x2="400.3" y2="439.3" stroke="#1a1a1a" stroke-width="1.1"/>
<text transform="translate(395.4 442.2) scale(1 1.08)" font-size="8.3" text-anchor="end" font-weight="normal" fill="#111" font-style="normal" stroke="#111" stroke-width="0.2">0</text>
<line x1="396.1" y1="422.12" x2="400.3" y2="422.12" stroke="#1a1a1a" stroke-width="1.1"/>
<text transform="translate(395.4 425.02) scale(1 1.08)" font-size="8.3" text-anchor="end" font-weight="normal" fill="#111" font-style="normal" stroke="#111" stroke-width="0.2">50</text>
<line x1="396.1" y1="404.94" x2="400.3" y2="404.94" stroke="#1a1a1a" stroke-width="1.1"/>
<text transform="translate(395.4 407.84) scale(1 1.08)" font-size="8.3" text-anchor="end" font-weight="normal" fill="#111" font-style="normal" stroke="#111" stroke-width="0.2">100</text>
<line x1="396.1" y1="387.76" x2="400.3" y2="387.76" stroke="#1a1a1a" stroke-width="1.1"/>
<text transform="translate(395.4 390.66) scale(1 1.08)" font-size="8.3" text-anchor="end" font-weight="normal" fill="#111" font-style="normal" stroke="#111" stroke-width="0.2">150</text>
<line x1="396.1" y1="370.58" x2="400.3" y2="370.58" stroke="#1a1a1a" stroke-width="1.1"/>
<text transform="translate(395.4 373.48) scale(1 1.08)" font-size="8.3" text-anchor="end" font-weight="normal" fill="#111" font-style="normal" stroke="#111" stroke-width="0.2">200</text>
<line x1="396.1" y1="353.4" x2="400.3" y2="353.4" stroke="#1a1a1a" stroke-width="1.1"/>
<text transform="translate(395.4 356.3) scale(1 1.08)" font-size="8.3" text-anchor="end" font-weight="normal" fill="#111" font-style="normal" stroke="#111" stroke-width="0.2">250</text>
<line x1="416.4" y1="439.3" x2="416.4" y2="443.1" stroke="#1a1a1a" stroke-width="1.1"/>
<line x1="441.2" y1="439.3" x2="441.2" y2="443.1" stroke="#1a1a1a" stroke-width="1.1"/>
<text transform="translate(376.6 395.3) rotate(-90) scale(1 1.08)" font-size="9.2" text-anchor="middle" font-weight="normal" fill="#111" font-style="normal" stroke="#111" stroke-width="0.2">File size (MB)</text>
<line x1="408.8" y1="432.4" x2="424.8" y2="432.4" stroke="#111" stroke-width="1.1"/>
<line x1="416.6" y1="430.1" x2="416.6" y2="432.4" stroke="#111" stroke-width="1"/>
<line x1="412.2" y1="430.1" x2="420.9" y2="430.1" stroke="#111" stroke-width="1"/>
<rect x="433.8" y="379.6" width="15.0" height="2.8" fill="#a80f0f" stroke="#111" stroke-width="1"/>
<line x1="433.8" y1="382.3" x2="448.8" y2="382.3" stroke="#111" stroke-width="1.1"/>
<line x1="441.3" y1="378.4" x2="441.3" y2="379.6" stroke="#111" stroke-width="1"/>
<line x1="441.3" y1="382.6" x2="441.3" y2="385.4" stroke="#111" stroke-width="1"/>
<line x1="437" y1="378.4" x2="445.7" y2="378.4" stroke="#111" stroke-width="1"/>
<line x1="437" y1="385.4" x2="445.7" y2="385.4" stroke="#111" stroke-width="1"/>
<text transform="translate(419.4 451.4) rotate(-45) scale(1 1.08)" font-size="9.8" text-anchor="end" font-weight="normal" fill="#111" font-style="normal" stroke="#111" stroke-width="0.2">Orbitrap</text>
<text transform="translate(443.6 451.8) rotate(-45) scale(1 1.08)" font-size="9.8" text-anchor="end" font-weight="normal" fill="#111" font-style="normal" stroke="#111" stroke-width="0.2">ASTRAL</text>
<line x1="499.7" y1="403.5" x2="670.5" y2="403.5" stroke="#dcdcdc" stroke-width="1" stroke-dasharray="1.2 1"/>
<line x1="499.7" y1="367.5" x2="670.5" y2="367.5" stroke="#dcdcdc" stroke-width="1" stroke-dasharray="1.2 1"/>
<path d="M500.12 433.14h1.6v1.6h-1.6zM500.85 429.83h1.6v1.6h-1.6zM501.58 425.48h1.6v1.6h-1.6zM502.31 424.02h1.6v1.6h-1.6zM503.05 419.26h1.6v1.6h-1.6zM503.78 421.04h1.6v1.6h-1.6zM504.51 413.83h1.6v1.6h-1.6zM505.24 408.59h1.6v1.6h-1.6zM505.97 409.53h1.6v1.6h-1.6zM506.7 400.49h1.6v1.6h-1.6zM507.44 397.81h1.6v1.6h-1.6zM508.17 397.38h1.6v1.6h-1.6zM508.9 393.63h1.6v1.6h-1.6zM509.63 391.07h1.6v1.6h-1.6zM510.36 390.58h1.6v1.6h-1.6zM511.09 387.89h1.6v1.6h-1.6zM511.13 375.89h1.6v1.6h-1.6zM511.44 379.59h1.6v1.6h-1.6zM511.03 376.16h1.6v1.6h-1.6zM511.62 375.83h1.6v1.6h-1.6zM511.87 384.53h1.6v1.6h-1.6zM511.22 386.26h1.6v1.6h-1.6zM510.96 387.57h1.6v1.6h-1.6zM512.79 379.48h1.6v1.6h-1.6zM509.96 379.43h1.6v1.6h-1.6zM513.14 384.84h1.6v1.6h-1.6zM517.71 396.46h1.6v1.6h-1.6zM512.93 381.68h1.6v1.6h-1.6zM516.63 399.31h1.6v1.6h-1.6zM519.2 409.44h1.6v1.6h-1.6zM517.06 387.96h1.6v1.6h-1.6zM510.1 377.54h1.6v1.6h-1.6zM513.41 380.91h1.6v1.6h-1.6zM510.01 389.67h1.6v1.6h-1.6zM511.65 377.54h1.6v1.6h-1.6zM511.79 377.54h1.6v1.6h-1.6zM518.77 392.8h1.6v1.6h-1.6zM512.85 390.6h1.6v1.6h-1.6zM513.7 391.13h1.6v1.6h-1.6zM514.56 391.74h1.6v1.6h-1.6zM515.41 392.24h1.6v1.6h-1.6zM516.27 398.46h1.6v1.6h-1.6zM517.12 396.66h1.6v1.6h-1.6zM517.97 399.14h1.6v1.6h-1.6zM518.83 401.73h1.6v1.6h-1.6zM519.68 411.66h1.6v1.6h-1.6zM520.53 407.52h1.6v1.6h-1.6zM521.39 416.37h1.6v1.6h-1.6zM522.24 417.08h1.6v1.6h-1.6zM519.88 428.59h1.6v1.6h-1.6zM520.38 428.59h1.6v1.6h-1.6zM520.89 428.59h1.6v1.6h-1.6zM521.4 428.59h1.6v1.6h-1.6zM521.91 428.59h1.6v1.6h-1.6zM522.42 428.59h1.6v1.6h-1.6zM522.92 428.59h1.6v1.6h-1.6zM523.43 428.59h1.6v1.6h-1.6zM523.94 428.59h1.6v1.6h-1.6zM524.45 428.59h1.6v1.6h-1.6zM524.96 428.59h1.6v1.6h-1.6zM525.46 428.59h1.6v1.6h-1.6zM525.97 428.59h1.6v1.6h-1.6zM526.18 414.83h1.6v1.6h-1.6zM525.98 415.43h1.6v1.6h-1.6zM526.13 423.96h1.6v1.6h-1.6zM525.96 426.07h1.6v1.6h-1.6zM521.25 425.73h1.6v1.6h-1.6zM524.38 418.75h1.6v1.6h-1.6zM521.68 426.73h1.6v1.6h-1.6zM526.46 406.86h1.6v1.6h-1.6zM527.31 407.21h1.6v1.6h-1.6zM528.17 399.68h1.6v1.6h-1.6zM529.02 398.46h1.6v1.6h-1.6zM529.88 395.77h1.6v1.6h-1.6zM530.73 390.83h1.6v1.6h-1.6zM531.58 387.13h1.6v1.6h-1.6zM532.44 387.01h1.6v1.6h-1.6zM533.45 377.64h1.6v1.6h-1.6zM532.81 381.38h1.6v1.6h-1.6zM532.86 377.04h1.6v1.6h-1.6zM533.04 381.19h1.6v1.6h-1.6zM533.9 376.96h1.6v1.6h-1.6zM533.87 381.18h1.6v1.6h-1.6zM533.28 378.26h1.6v1.6h-1.6zM536.38 385.94h1.6v1.6h-1.6zM535.67 386.44h1.6v1.6h-1.6zM535.41 377.54h1.6v1.6h-1.6zM540.96 397.61h1.6v1.6h-1.6zM536.58 385.73h1.6v1.6h-1.6zM532.67 381.8h1.6v1.6h-1.6zM539.27 386.96h1.6v1.6h-1.6zM535.26 377.54h1.6v1.6h-1.6zM539.2 389.53h1.6v1.6h-1.6zM538.14 384.27h1.6v1.6h-1.6zM535.28 377.54h1.6v1.6h-1.6zM534.5 378.75h1.6v1.6h-1.6zM539.15 389.39h1.6v1.6h-1.6zM534.62 377.54h1.6v1.6h-1.6zM534.75 388.29h1.6v1.6h-1.6zM535.61 388.3h1.6v1.6h-1.6zM536.46 391.69h1.6v1.6h-1.6zM537.31 390.9h1.6v1.6h-1.6zM538.17 395.24h1.6v1.6h-1.6zM539.02 395h1.6v1.6h-1.6zM539.88 399.81h1.6v1.6h-1.6zM540.73 400.12h1.6v1.6h-1.6zM541.58 405.05h1.6v1.6h-1.6zM542.44 407.15h1.6v1.6h-1.6zM543.29 413.83h1.6v1.6h-1.6zM544.14 414.46h1.6v1.6h-1.6zM542.31 427.66h1.6v1.6h-1.6zM542.85 427.66h1.6v1.6h-1.6zM543.38 427.66h1.6v1.6h-1.6zM543.91 427.66h1.6v1.6h-1.6zM544.44 427.66h1.6v1.6h-1.6zM544.97 427.66h1.6v1.6h-1.6zM545.51 427.66h1.6v1.6h-1.6zM546.04 427.66h1.6v1.6h-1.6zM546.57 427.66h1.6v1.6h-1.6zM547.1 427.66h1.6v1.6h-1.6zM547.64 427.66h1.6v1.6h-1.6zM548.17 427.66h1.6v1.6h-1.6zM548.46 416.74h1.6v1.6h-1.6zM548.18 417.3h1.6v1.6h-1.6zM548.56 418.36h1.6v1.6h-1.6zM548.64 414.49h1.6v1.6h-1.6zM545.7 422.73h1.6v1.6h-1.6zM543.9 419.63h1.6v1.6h-1.6zM547.85 421.5h1.6v1.6h-1.6zM548.66 410.35h1.6v1.6h-1.6zM549.51 411.34h1.6v1.6h-1.6zM550.36 403.47h1.6v1.6h-1.6zM551.22 401.43h1.6v1.6h-1.6zM552.07 395.71h1.6v1.6h-1.6zM552.92 394.02h1.6v1.6h-1.6zM553.78 392.39h1.6v1.6h-1.6zM554.63 387.93h1.6v1.6h-1.6zM555.48 389.23h1.6v1.6h-1.6zM556.15 377.28h1.6v1.6h-1.6zM556.37 384.99h1.6v1.6h-1.6zM556.26 380.13h1.6v1.6h-1.6zM556.32 382.42h1.6v1.6h-1.6zM556.14 377.39h1.6v1.6h-1.6zM556.56 374.69h1.6v1.6h-1.6zM556.81 381.6h1.6v1.6h-1.6zM563.83 404.18h1.6v1.6h-1.6zM559.1 384h1.6v1.6h-1.6zM559.14 386.79h1.6v1.6h-1.6zM563.15 395.47h1.6v1.6h-1.6zM555.58 376.65h1.6v1.6h-1.6zM556.14 377.2h1.6v1.6h-1.6zM558.47 377.86h1.6v1.6h-1.6zM564.36 392.62h1.6v1.6h-1.6zM559.23 375.48h1.6v1.6h-1.6zM561.35 388.94h1.6v1.6h-1.6zM556.59 376.18h1.6v1.6h-1.6zM560.6 376.81h1.6v1.6h-1.6zM564.45 396.41h1.6v1.6h-1.6zM558.58 372.89h1.6v1.6h-1.6zM558.17 388.58h1.6v1.6h-1.6zM559.02 389.31h1.6v1.6h-1.6zM559.88 389.1h1.6v1.6h-1.6zM560.73 390.32h1.6v1.6h-1.6zM561.58 395.29h1.6v1.6h-1.6zM562.44 394.6h1.6v1.6h-1.6zM563.29 395.48h1.6v1.6h-1.6zM564.14 402.57h1.6v1.6h-1.6zM565 405.33h1.6v1.6h-1.6zM565.85 410.03h1.6v1.6h-1.6zM566.7 412.33h1.6v1.6h-1.6zM567.56 410.27h1.6v1.6h-1.6zM566.46 424.51h1.6v1.6h-1.6zM566.95 424.51h1.6v1.6h-1.6zM567.44 424.51h1.6v1.6h-1.6zM567.92 424.51h1.6v1.6h-1.6zM568.41 424.51h1.6v1.6h-1.6zM568.9 424.51h1.6v1.6h-1.6zM569.39 424.51h1.6v1.6h-1.6zM569.87 424.51h1.6v1.6h-1.6zM570.36 424.51h1.6v1.6h-1.6zM570.85 424.51h1.6v1.6h-1.6zM571.34 424.51h1.6v1.6h-1.6zM571.83 424.51h1.6v1.6h-1.6zM572.31 424.51h1.6v1.6h-1.6zM572.8 424.51h1.6v1.6h-1.6zM572.84 412.87h1.6v1.6h-1.6zM573.23 416.49h1.6v1.6h-1.6zM572.75 412.92h1.6v1.6h-1.6zM572.92 419.36h1.6v1.6h-1.6zM568.82 418.56h1.6v1.6h-1.6zM569.83 421.77h1.6v1.6h-1.6zM569.74 422.53h1.6v1.6h-1.6zM573.29 408.77h1.6v1.6h-1.6zM574.14 405.5h1.6v1.6h-1.6zM575 397.56h1.6v1.6h-1.6zM575.85 401.52h1.6v1.6h-1.6zM576.7 393.38h1.6v1.6h-1.6zM577.56 391.7h1.6v1.6h-1.6zM578.41 391.01h1.6v1.6h-1.6zM579.27 390.11h1.6v1.6h-1.6zM580.58 376.94h1.6v1.6h-1.6zM580.73 375.32h1.6v1.6h-1.6zM580.14 375.04h1.6v1.6h-1.6zM580.36 378.78h1.6v1.6h-1.6zM580.41 382.68h1.6v1.6h-1.6zM580.64 379.92h1.6v1.6h-1.6zM580.44 375.3h1.6v1.6h-1.6zM584.76 393.17h1.6v1.6h-1.6zM581.54 380.4h1.6v1.6h-1.6zM587.86 388.83h1.6v1.6h-1.6zM584.33 392.39h1.6v1.6h-1.6zM586.55 392.13h1.6v1.6h-1.6zM584.62 381.72h1.6v1.6h-1.6zM585.16 386.94h1.6v1.6h-1.6zM587.82 396.96h1.6v1.6h-1.6zM582.87 375.49h1.6v1.6h-1.6zM581.01 382.75h1.6v1.6h-1.6zM587.04 399.69h1.6v1.6h-1.6zM587.1 389.53h1.6v1.6h-1.6zM583.26 385.5h1.6v1.6h-1.6zM586.57 384.25h1.6v1.6h-1.6zM582.07 389.88h1.6v1.6h-1.6zM582.92 389.95h1.6v1.6h-1.6zM583.78 390.55h1.6v1.6h-1.6zM584.63 391.98h1.6v1.6h-1.6zM585.48 394.62h1.6v1.6h-1.6zM586.34 398.08h1.6v1.6h-1.6zM587.19 397.79h1.6v1.6h-1.6zM588.05 398.88h1.6v1.6h-1.6zM588.9 406.88h1.6v1.6h-1.6zM589.75 408.43h1.6v1.6h-1.6zM590.61 407.07h1.6v1.6h-1.6zM591.46 409.84h1.6v1.6h-1.6zM592.31 412.85h1.6v1.6h-1.6zM591.34 422.72h1.6v1.6h-1.6zM591.83 422.72h1.6v1.6h-1.6zM592.31 422.72h1.6v1.6h-1.6zM592.8 422.72h1.6v1.6h-1.6zM593.29 422.72h1.6v1.6h-1.6zM593.78 422.72h1.6v1.6h-1.6zM594.26 422.72h1.6v1.6h-1.6zM594.75 422.72h1.6v1.6h-1.6zM595.24 422.72h1.6v1.6h-1.6zM595.73 422.72h1.6v1.6h-1.6zM596.22 422.72h1.6v1.6h-1.6zM596.7 422.72h1.6v1.6h-1.6zM596.48 415.36h1.6v1.6h-1.6zM597.18 410.09h1.6v1.6h-1.6zM596.97 422.14h1.6v1.6h-1.6zM597.08 420.03h1.6v1.6h-1.6zM594.8 416.67h1.6v1.6h-1.6zM595.16 420.56h1.6v1.6h-1.6zM592.91 417.21h1.6v1.6h-1.6zM597.19 407.74h1.6v1.6h-1.6zM598.05 403.1h1.6v1.6h-1.6zM598.9 398.3h1.6v1.6h-1.6zM599.75 397.78h1.6v1.6h-1.6zM600.61 394.1h1.6v1.6h-1.6zM601.46 393.19h1.6v1.6h-1.6zM602.31 387.48h1.6v1.6h-1.6zM603.17 387.84h1.6v1.6h-1.6zM604.63 375.22h1.6v1.6h-1.6zM605.04 377.29h1.6v1.6h-1.6zM603.97 371.5h1.6v1.6h-1.6zM604.08 372.68h1.6v1.6h-1.6zM604.52 367.69h1.6v1.6h-1.6zM604.58 372.87h1.6v1.6h-1.6zM604.22 374.11h1.6v1.6h-1.6zM605.46 371.92h1.6v1.6h-1.6zM607.96 385.45h1.6v1.6h-1.6zM605.28 378.06h1.6v1.6h-1.6zM610.05 389.84h1.6v1.6h-1.6zM609.83 381.39h1.6v1.6h-1.6zM603.86 373.27h1.6v1.6h-1.6zM603.91 382.16h1.6v1.6h-1.6zM608.7 385.33h1.6v1.6h-1.6zM611.39 388.79h1.6v1.6h-1.6zM606.12 371.7h1.6v1.6h-1.6zM603.33 372.97h1.6v1.6h-1.6zM603.56 382.1h1.6v1.6h-1.6zM612.1 387.66h1.6v1.6h-1.6zM605.17 382.21h1.6v1.6h-1.6zM605.97 387.02h1.6v1.6h-1.6zM606.83 386.18h1.6v1.6h-1.6zM607.68 386.38h1.6v1.6h-1.6zM608.53 389.36h1.6v1.6h-1.6zM609.39 388.97h1.6v1.6h-1.6zM610.24 392.09h1.6v1.6h-1.6zM611.09 395.05h1.6v1.6h-1.6zM611.95 396.89h1.6v1.6h-1.6zM612.8 397.59h1.6v1.6h-1.6zM613.65 401.94h1.6v1.6h-1.6zM614.51 404.25h1.6v1.6h-1.6zM615.36 408.16h1.6v1.6h-1.6zM616.22 406.35h1.6v1.6h-1.6zM617.07 409.61h1.6v1.6h-1.6zM617.92 410.77h1.6v1.6h-1.6zM615.73 421.29h1.6v1.6h-1.6zM616.23 421.29h1.6v1.6h-1.6zM616.74 421.29h1.6v1.6h-1.6zM617.25 421.29h1.6v1.6h-1.6zM617.75 421.29h1.6v1.6h-1.6zM618.26 421.29h1.6v1.6h-1.6zM618.77 421.29h1.6v1.6h-1.6zM619.27 421.29h1.6v1.6h-1.6zM619.78 421.29h1.6v1.6h-1.6zM620.29 421.29h1.6v1.6h-1.6zM620.79 421.29h1.6v1.6h-1.6zM621.3 421.29h1.6v1.6h-1.6zM621.81 421.29h1.6v1.6h-1.6zM622.31 421.29h1.6v1.6h-1.6zM622.39 411.72h1.6v1.6h-1.6zM622.45 414.52h1.6v1.6h-1.6zM622.49 412.74h1.6v1.6h-1.6zM622.36 420.21h1.6v1.6h-1.6zM617.13 418.54h1.6v1.6h-1.6zM617.16 414.13h1.6v1.6h-1.6zM619.53 416.14h1.6v1.6h-1.6zM622.8 408.33h1.6v1.6h-1.6zM623.65 401.83h1.6v1.6h-1.6zM624.51 400.77h1.6v1.6h-1.6zM625.36 395.81h1.6v1.6h-1.6zM626.22 394.48h1.6v1.6h-1.6zM627.07 392.87h1.6v1.6h-1.6zM627.92 388.46h1.6v1.6h-1.6zM628.78 388.36h1.6v1.6h-1.6zM629.86 382.83h1.6v1.6h-1.6zM630.1 385.19h1.6v1.6h-1.6zM630.64 381.28h1.6v1.6h-1.6zM630.65 377.58h1.6v1.6h-1.6zM630.33 380.09h1.6v1.6h-1.6zM630.66 384.19h1.6v1.6h-1.6zM630.32 382.18h1.6v1.6h-1.6zM635.07 380.77h1.6v1.6h-1.6zM630.21 382.25h1.6v1.6h-1.6zM628.89 382.63h1.6v1.6h-1.6zM629.4 379.26h1.6v1.6h-1.6zM637.92 394.81h1.6v1.6h-1.6zM631.62 378.58h1.6v1.6h-1.6zM631.35 376.11h1.6v1.6h-1.6zM635.48 391.19h1.6v1.6h-1.6zM630.94 376.11h1.6v1.6h-1.6zM637.6 389.27h1.6v1.6h-1.6zM632.75 376.11h1.6v1.6h-1.6zM628.71 385.69h1.6v1.6h-1.6zM636.07 388.74h1.6v1.6h-1.6zM629.08 377.15h1.6v1.6h-1.6zM631.58 388.54h1.6v1.6h-1.6zM632.44 387.86h1.6v1.6h-1.6zM633.29 388.89h1.6v1.6h-1.6zM634.14 391.17h1.6v1.6h-1.6zM635 393.14h1.6v1.6h-1.6zM635.85 391.05h1.6v1.6h-1.6zM636.7 395.1h1.6v1.6h-1.6zM637.56 394.79h1.6v1.6h-1.6zM638.41 402.64h1.6v1.6h-1.6zM639.26 403.88h1.6v1.6h-1.6zM640.12 407.26h1.6v1.6h-1.6zM640.97 407.49h1.6v1.6h-1.6zM641.83 410.83h1.6v1.6h-1.6zM642.68 411.52h1.6v1.6h-1.6zM644.02 419.57h1.6v1.6h-1.6zM644.57 419.57h1.6v1.6h-1.6zM645.12 419.57h1.6v1.6h-1.6zM645.67 419.57h1.6v1.6h-1.6zM646.22 419.57h1.6v1.6h-1.6zM646.76 419.57h1.6v1.6h-1.6zM647.31 419.57h1.6v1.6h-1.6zM647.86 419.57h1.6v1.6h-1.6zM648.41 419.57h1.6v1.6h-1.6zM648.46 415.25h1.6v1.6h-1.6zM648.2 419.07h1.6v1.6h-1.6zM648.88 416.8h1.6v1.6h-1.6zM648.54 413.8h1.6v1.6h-1.6zM645.21 417.68h1.6v1.6h-1.6zM643.73 417.62h1.6v1.6h-1.6zM645.28 413.07h1.6v1.6h-1.6zM648.9 400.47h1.6v1.6h-1.6zM649.75 396.83h1.6v1.6h-1.6zM650.61 395.38h1.6v1.6h-1.6zM651.46 394.08h1.6v1.6h-1.6zM652.31 390.73h1.6v1.6h-1.6zM653.17 387.42h1.6v1.6h-1.6zM654.02 388.01h1.6v1.6h-1.6zM520.12 363.94h1.6v1.6h-1.6zM606.95 366.08h1.6v1.6h-1.6zM637.92 426.59h1.6v1.6h-1.6zM638.65 429.09h1.6v1.6h-1.6zM637.44 424.08h1.6v1.6h-1.6zM652.07 378.97h1.6v1.6h-1.6zM653.04 381.84h1.6v1.6h-1.6zM654.26 429.81h1.6v1.6h-1.6zM654.26 398.3h1.6v1.6h-1.6zM587.44 379.69h1.6v1.6h-1.6zM563.53 386.13h1.6v1.6h-1.6zM539.39 389h1.6v1.6h-1.6zM615.48 381.84h1.6v1.6h-1.6z" fill="#2e2e2e"/>
<polyline points="499.7,439.2 500.19,439.2 500.68,438.42 501.16,436.19 501.65,433.97 502.14,431.74 502.63,429.51 503.11,427.29 503.6,425.06 504.09,422.83 504.58,420.61 505.07,418.38 505.55,416.15 506.04,413.93 506.53,411.7 507.02,409.47 507.5,407.25 507.99,405.02 508.48,402.79 508.97,400.57 509.46,398.37 509.94,396.32 510.43,394.54 510.92,393.1 511.41,392.05 511.89,391.47 512.38,391.39 512.87,391.61 513.36,392.06 513.85,392.74 514.33,393.64 514.82,394.75 515.31,396.03 515.8,397.48 516.29,399.07 516.77,400.78 517.26,402.57 517.75,404.41 518.24,406.28 518.72,408.14 519.21,409.97 519.7,411.73 520.19,413.39 520.68,414.93 521.16,416.32 521.65,417.53 522.14,418.56 522.63,419.37 523.11,419.96 523.6,420.32 524.09,420.44 524.58,420.26 525.07,419.71 525.55,418.81 526.04,417.57 526.53,416.04 527.02,414.24 527.5,412.21 527.99,410.01 528.48,407.69 528.97,405.29 529.46,402.88 529.94,400.51 530.43,398.25 530.92,396.13 531.41,394.21 531.89,392.54 532.38,391.15 532.87,390.08 533.36,389.35 533.85,388.98 534.33,388.97 534.82,389.22 535.31,389.71 535.8,390.44 536.28,391.39 536.77,392.55 537.26,393.91 537.75,395.43 538.24,397.1 538.72,398.89 539.21,400.77 539.7,402.71 540.19,404.69 540.68,406.66 541.16,408.61 541.65,410.49 542.14,412.28 542.63,413.95 543.11,415.47 543.6,416.83 544.09,417.99 544.58,418.94 545.07,419.67 545.55,420.16 546.04,420.41 546.53,420.4 547.02,420.11 547.5,419.53 547.99,418.67 548.48,417.56 548.97,416.2 549.46,414.63 549.94,412.87 550.43,410.96 550.92,408.94 551.41,406.83 551.89,404.69 552.38,402.54 552.87,400.44 553.36,398.41 553.85,396.5 554.33,394.75 554.82,393.18 555.31,391.82 555.8,390.7 556.28,389.85 556.77,389.27 557.26,388.97 557.75,388.96 558.24,389.19 558.72,389.63 559.21,390.28 559.7,391.14 560.19,392.18 560.67,393.4 561.16,394.78 561.65,396.3 562.14,397.93 562.63,399.65 563.11,401.44 563.6,403.27 564.09,405.11 564.58,406.94 565.07,408.72 565.55,410.45 566.04,412.08 566.53,413.59 567.02,414.97 567.5,416.19 567.99,417.24 568.48,418.09 568.97,418.75 569.46,419.19 569.94,419.41 570.43,419.4 570.92,419.14 571.41,418.6 571.89,417.82 572.38,416.79 572.87,415.55 573.36,414.1 573.85,412.49 574.33,410.74 574.82,408.88 575.31,406.94 575.8,404.98 576.28,403.01 576.77,401.07 577.26,399.21 577.75,397.46 578.24,395.85 578.72,394.4 579.21,393.16 579.7,392.13 580.19,391.35 580.67,390.81 581.16,390.55 581.65,390.54 582.14,390.72 582.63,391.09 583.11,391.63 583.6,392.35 584.09,393.23 584.58,394.25 585.06,395.41 585.55,396.69 586.04,398.07 586.53,399.53 587.02,401.06 587.5,402.63 587.99,404.22 588.48,405.82 588.97,407.39 589.46,408.91 589.94,410.38 590.43,411.76 590.92,413.04 591.41,414.2 591.89,415.22 592.38,416.1 592.87,416.81 593.36,417.36 593.85,417.73 594.33,417.91 594.82,417.9 595.31,417.58 595.8,416.96 596.28,416.04 596.77,414.84 597.26,413.39 597.75,411.72 598.24,409.86 598.72,407.85 599.21,405.73 599.7,403.54 600.19,401.33 600.67,399.14 601.16,397.02 601.65,395 602.14,393.14 602.63,391.47 603.11,390.02 603.6,388.83 604.09,387.91 604.58,387.29 605.06,386.97 605.55,386.95 606.04,387.1 606.53,387.41 607.02,387.86 607.5,388.45 607.99,389.19 608.48,390.05 608.97,391.03 609.46,392.12 609.94,393.31 610.43,394.58 610.92,395.92 611.41,397.33 611.89,398.77 612.38,400.25 612.87,401.73 613.36,403.21 613.85,404.67 614.33,406.1 614.82,407.48 615.31,408.79 615.8,410.02 616.28,411.16 616.77,412.2 617.26,413.12 617.75,413.92 618.24,414.58 618.72,415.1 619.21,415.48 619.7,415.71 620.19,415.79 620.67,415.65 621.16,415.23 621.65,414.55 622.14,413.62 622.63,412.46 623.11,411.08 623.6,409.52 624.09,407.81 624.58,405.99 625.06,404.09 625.55,402.15 626.04,400.21 626.53,398.3 627.02,396.48 627.5,394.77 627.99,393.21 628.48,391.84 628.97,390.67 629.45,389.74 629.94,389.06 630.43,388.65 630.92,388.51 631.41,388.58 631.89,388.82 632.38,389.2 632.87,389.73 633.36,390.41 633.85,391.21 634.33,392.14 634.82,393.18 635.31,394.31 635.8,395.54 636.28,396.83 636.77,398.18 637.26,399.56 637.75,400.97 638.24,402.38 638.72,403.78 639.21,405.15 639.7,406.47 640.19,407.73 640.67,408.91 641.16,410 641.65,410.99 642.14,411.86 642.63,412.6 643.11,413.2 643.6,413.66 644.09,413.97 644.58,414.12 645.06,414.11 645.55,413.9 646.04,413.48 646.53,412.86 647.02,412.05 647.5,411.06 647.99,409.91 648.48,408.61 648.97,407.18 649.45,405.66 649.94,404.05 650.43,402.4 650.92,400.71 651.41,399.03 651.89,397.38 652.38,395.77 652.87,394.25 653.36,392.82 653.84,391.52 654.33,390.37 654.82,389.38 655.31,388.57" fill="none" stroke="#1a3ef5" stroke-width="2.3" stroke-linejoin="round" stroke-linecap="round"/>
<line x1="656.6" y1="353" x2="656.6" y2="439.2" stroke="#111" stroke-width="1.2" stroke-dasharray="2.8 1.5"/>
<text transform="translate(635.1 359.6) scale(1 1.08)" font-size="8.2" text-anchor="middle" font-weight="bold" fill="#1f48ec" font-style="normal" stroke="#1f48ec" stroke-width="0.2">64 minute</text>
<line x1="499.7" y1="353.6" x2="499.7" y2="439.8" stroke="#1a1a1a" stroke-width="1.3"/>
<line x1="499.1" y1="439.2" x2="671.8" y2="439.2" stroke="#1a1a1a" stroke-width="1.3"/>
<line x1="495.7" y1="439.2" x2="499.7" y2="439.2" stroke="#1a1a1a" stroke-width="1.1"/>
<text transform="translate(495.1 442.5) scale(1 1.08)" font-size="9.3" text-anchor="end" font-weight="normal" fill="#111" font-style="normal" stroke="#111" stroke-width="0.2">0</text>
<line x1="495.7" y1="403.4" x2="499.7" y2="403.4" stroke="#1a1a1a" stroke-width="1.1"/>
<text transform="translate(495.1 406.7) scale(1 1.08)" font-size="9.3" text-anchor="end" font-weight="normal" fill="#111" font-style="normal" stroke="#111" stroke-width="0.2">5</text>
<line x1="495.7" y1="367.6" x2="499.7" y2="367.6" stroke="#1a1a1a" stroke-width="1.1"/>
<text transform="translate(495.1 370.9) scale(1 1.08)" font-size="9.3" text-anchor="end" font-weight="normal" fill="#111" font-style="normal" stroke="#111" stroke-width="0.2">10</text>
<line x1="499.7" y1="439.2" x2="499.7" y2="442.8" stroke="#1a1a1a" stroke-width="1.1"/>
<text transform="translate(499.7 453.2) scale(1 1.08)" font-size="9.3" text-anchor="middle" font-weight="normal" fill="#111" font-style="normal" stroke="#111" stroke-width="0.2">0</text>
<line x1="524.09" y1="439.2" x2="524.09" y2="442.8" stroke="#1a1a1a" stroke-width="1.1"/>
<text transform="translate(524.09 453.2) scale(1 1.08)" font-size="9.3" text-anchor="middle" font-weight="normal" fill="#111" font-style="normal" stroke="#111" stroke-width="0.2">10</text>
<line x1="548.48" y1="439.2" x2="548.48" y2="442.8" stroke="#1a1a1a" stroke-width="1.1"/>
<text transform="translate(548.48 453.2) scale(1 1.08)" font-size="9.3" text-anchor="middle" font-weight="normal" fill="#111" font-style="normal" stroke="#111" stroke-width="0.2">20</text>
<line x1="572.87" y1="439.2" x2="572.87" y2="442.8" stroke="#1a1a1a" stroke-width="1.1"/>
<text transform="translate(572.87 453.2) scale(1 1.08)" font-size="9.3" text-anchor="middle" font-weight="normal" fill="#111" font-style="normal" stroke="#111" stroke-width="0.2">30</text>
<line x1="597.26" y1="439.2" x2="597.26" y2="442.8" stroke="#1a1a1a" stroke-width="1.1"/>
<text transform="translate(597.26 453.2) scale(1 1.08)" font-size="9.3" text-anchor="middle" font-weight="normal" fill="#111" font-style="normal" stroke="#111" stroke-width="0.2">40</text>
<line x1="621.65" y1="439.2" x2="621.65" y2="442.8" stroke="#1a1a1a" stroke-width="1.1"/>
<text transform="translate(621.65 453.2) scale(1 1.08)" font-size="9.3" text-anchor="middle" font-weight="normal" fill="#111" font-style="normal" stroke="#111" stroke-width="0.2">50</text>
<line x1="646.04" y1="439.2" x2="646.04" y2="442.8" stroke="#1a1a1a" stroke-width="1.1"/>
<text transform="translate(646.04 453.2) scale(1 1.08)" font-size="9.3" text-anchor="middle" font-weight="normal" fill="#111" font-style="normal" stroke="#111" stroke-width="0.2">60</text>
<line x1="670.43" y1="439.2" x2="670.43" y2="442.8" stroke="#1a1a1a" stroke-width="1.1"/>
<text transform="translate(670.43 453.2) scale(1 1.08)" font-size="9.3" text-anchor="middle" font-weight="normal" fill="#111" font-style="normal" stroke="#111" stroke-width="0.2">70</text>
<text transform="translate(585.5 464.7) scale(1 1.08)" font-size="9.2" text-anchor="middle" font-weight="normal" fill="#111" font-style="normal" stroke="#111" stroke-width="0.2">Time (minute)</text>
<text transform="translate(479.9 398.9) rotate(-90) scale(1 1.08)" font-size="9.3" text-anchor="middle" font-weight="normal" fill="#111" font-style="normal" stroke="#111" stroke-width="0.2">Memory cost (GB)</text>
</svg>
</body></html>
